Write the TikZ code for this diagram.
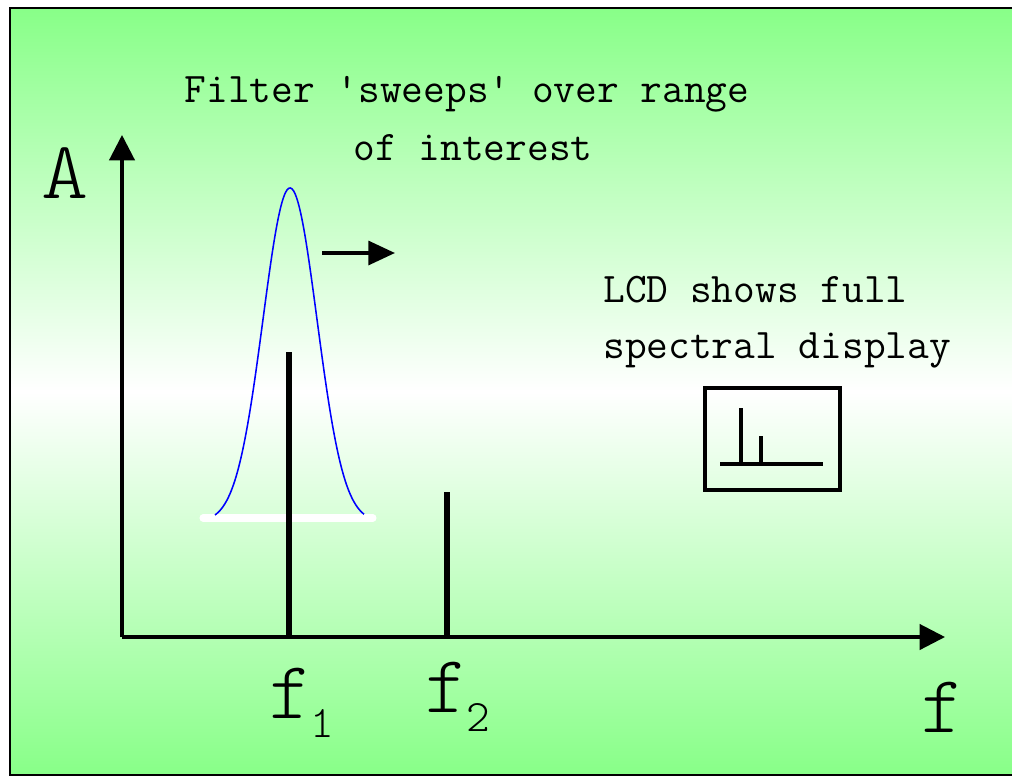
\documentclass[tikz,border=0pt]{standalone}
\usepackage{xcolor}
\usepackage{tikz}
\usetikzlibrary{arrows.meta,positioning}
\definecolor{PanelGreen}{HTML}{88FF88}
\definecolor{SweepBlue}{HTML}{0000FF}
\newcommand{\widelab}[1]{\scalebox{1.1}[1]{#1}}

\begin{document}
\begin{tikzpicture}[x=0.025cm, y=-0.025cm,
    txt/.style={font=\ttfamily\fontsize{30}{34}\selectfont, inner sep=0pt},
    big/.style={font=\ttfamily\fontseries{l}\fontsize{58}{60}\selectfont, inner sep=0pt},
    sub/.style={font=\ttfamily\fontseries{l}\fontsize{32}{34}\selectfont, inner sep=0pt},
    axis/.style={line width=2.2pt, -{Triangle[length=18pt, width=18pt]}},
    tone/.style={line width=3.6pt},
    sweep/.style={line width=2.6pt, -{Triangle[length=19pt, width=17pt]}},
  ]
    \useasboundingbox (0,0) rectangle (1012,777);
    % Panel
    \shade[top color=PanelGreen, bottom color=PanelGreen, middle color=white]
      (10,8) rectangle (1016,775);
    \draw[line width=2pt] (10,8) rectangle (1016,775);

    % Axes
    \coordinate (origin) at (122,637);
    \coordinate (ytip) at (122,135);
    \coordinate (xtip) at (945,637);
    \draw[axis] (origin) -- (ytip);
    \draw[axis] (origin) -- (xtip);

    % Filter passband
    \draw[white, line width=5pt, line cap=round] (203,518) -- (373,518);
    \draw[SweepBlue, line width=1.1pt] plot[domain=-75:74, samples=90, smooth]
      ({290+\x}, {522-334*exp(-(\x*\x)/1458)});
    \coordinate (sweepA) at (322,253);
    \coordinate (sweepB) at (395,253);
    \draw[sweep] (sweepA) -- (sweepB);

    % Spectral lines
    \coordinate (f1top) at (289,352);
    \coordinate (f1foot) at (289,637);
    \coordinate (f2top) at (447,492);
    \coordinate (f2foot) at (447,637);
    \draw[tone] (f1top) -- (f1foot);
    \draw[tone] (f2top) -- (f2foot);

    % LCD
    \node[draw, line width=2.2pt, minimum width=135*0.025cm, minimum height=102*0.025cm,
          inner sep=0pt] (lcd) at (772.5,439) {};
    \coordinate (lcdL) at (720,464);
    \coordinate (lcdR) at (823,464);
    \coordinate (lcdP1) at (741,408);
    \coordinate (lcdP1b) at (741,464);
    \coordinate (lcdP2) at (761,436);
    \coordinate (lcdP2b) at (761,464);
    \draw[line width=2.2pt] (lcdL) -- (lcdR);
    \draw[line width=3.4pt] (lcdP1) -- (lcdP1b);
    \draw[line width=3.4pt] (lcdP2) -- (lcdP2b);

    % Labels
    \node[txt, anchor=base] (title1) at (467,102) {Filter 'sweeps' over range};
    \node[txt, anchor=base] (title2) at (473,160) {of interest};
    \node[txt, anchor=base west] (lcd1) at (603,302) {LCD shows full};
    \node[txt, anchor=base west] (lcd2) at (603,358) {spectral display};
    \node[big, anchor=base] (alab) at (65,198) {\widelab{A}};
    \node[big, anchor=base] (f1lab) at (291,718) {f};
    \node[sub, anchor=base west] (f1sub) at (310,737) {1};
    \node[big, anchor=base] (f2lab) at (447,712) {f};
    \node[sub, anchor=base west] (f2sub) at (466,731) {2};
    \node[big, anchor=base] (flab) at (943,732) {f};
  \end{tikzpicture}
\end{document}
